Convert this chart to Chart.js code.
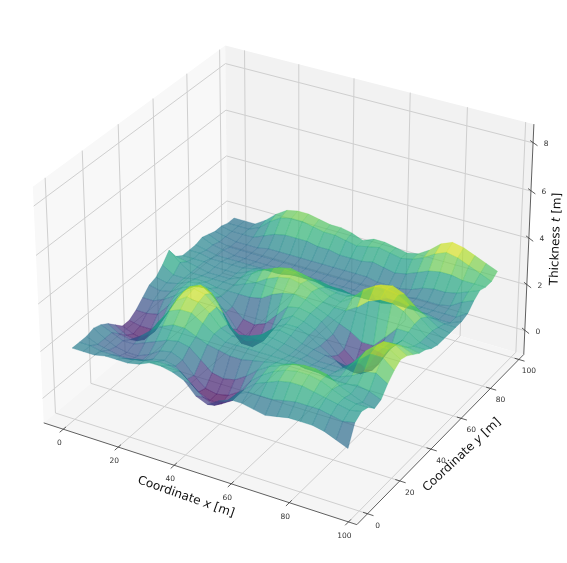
<!DOCTYPE html>
<html>
<head>
<meta charset="utf-8">
<title>Thickness surface</title>
<script src="https://cdn.jsdelivr.net/npm/chart.js@4/dist/chart.umd.js"></script>
<style>
    html, body { margin: 0; padding: 0; background: #fff; }
    canvas { display: block; }
</style>
</head>
<body>
<canvas id="surface" width="567" height="563"></canvas>
<script>
/* ---------- Data ---------- */
const xTicks = [0, 20, 40, 60, 80, 100];
const yTicks = [0, 20, 40, 60, 80, 100];
const zTicks = [0, 2, 4, 6, 8];
const xLim = [-7.2, 102.8];
const yLim = [-6.5, 103.5];
const zLim = [-1.06, 8.77];
const gridStep = 4;

// thickness, one row per y step, one column per x step
const thickness = [
    [2.0,2.0,2.0,2.1,2.1,2.1,2.2,2.4,2.4,2.3,2.1,1.6,1.4,1.7,1.9,1.9,1.8,1.7,1.8,1.9,1.9,1.9,1.8,1.6,1.4],
    [2.0,2.0,1.9,1.9,1.9,2.0,2.1,2.2,2.2,2.1,1.7,1.3,1.1,1.4,1.9,2.1,2.1,2.1,2.2,2.3,2.3,2.3,2.2,2.1,2.2],
    [2.0,1.8,1.7,1.6,1.6,1.7,1.9,2.0,1.9,1.5,1.1,0.9,0.9,1.2,1.8,2.2,2.4,2.6,2.7,2.7,2.6,2.5,2.4,2.3,2.4],
    [2.1,1.8,1.6,1.5,1.5,1.7,2.0,2.1,1.9,1.4,1.0,0.9,1.0,1.3,1.9,2.3,2.6,2.8,2.9,2.9,2.8,2.6,2.4,2.3,2.3],
    [2.0,1.8,1.6,1.6,1.8,2.0,2.2,2.3,2.2,1.8,1.4,1.3,1.4,1.7,2.1,2.4,2.6,2.8,2.9,2.9,2.8,2.5,2.3,2.1,2.0],
    [1.8,1.5,1.4,1.7,2.1,2.4,2.6,2.6,2.4,2.2,2.1,2.0,2.0,2.1,2.2,2.3,2.4,2.5,2.5,2.4,2.3,2.3,2.4,2.3,2.1],
    [1.5,1.2,1.1,1.5,2.2,2.8,3.0,3.0,2.7,2.4,2.2,2.2,2.2,2.2,2.2,2.2,2.2,2.1,2.1,2.1,2.2,2.4,2.7,2.8,2.5],
    [1.2,1.0,0.9,1.4,2.2,3.0,3.3,3.2,2.9,2.4,2.2,2.2,2.3,2.3,2.2,2.1,2.1,2.0,2.0,2.0,2.3,2.8,3.2,3.2,2.8],
    [1.2,1.1,1.1,1.6,2.4,3.1,3.4,3.3,2.9,2.3,2.0,2.1,2.3,2.3,2.2,2.1,2.0,1.9,1.9,1.9,2.3,2.9,3.3,3.3,3.0],
    [1.4,1.4,1.5,2.0,2.6,3.1,3.3,3.1,2.4,1.7,1.5,1.7,2.2,2.4,2.3,2.1,2.0,1.9,1.8,1.7,2.0,2.8,3.2,3.2,2.9],
    [1.7,1.7,1.9,2.2,2.6,2.9,2.9,2.4,1.5,1.0,1.0,1.4,2.1,2.4,2.4,2.2,1.9,1.6,1.3,1.2,1.5,2.4,2.9,2.9,2.7],
    [2.0,1.9,2.0,2.3,2.5,2.6,2.3,1.8,1.2,1.0,1.0,1.5,2.2,2.5,2.4,2.2,1.9,1.4,1.0,0.9,1.2,2.0,2.6,2.6,2.5],
    [2.1,2.0,2.1,2.3,2.4,2.3,2.1,1.8,1.4,1.3,1.5,2.0,2.5,2.6,2.5,2.3,1.9,1.4,1.0,0.9,1.2,2.0,2.5,2.4,2.4],
    [2.4,2.1,2.1,2.2,2.2,2.1,2.1,2.1,2.1,2.2,2.5,2.7,2.8,2.7,2.5,2.3,2.1,1.9,1.6,1.6,2.1,2.6,2.6,2.3,2.2],
    [2.8,2.4,2.1,2.1,2.1,2.1,2.1,2.3,2.5,2.8,3.0,3.1,3.0,2.8,2.5,2.4,2.4,2.7,3.1,3.3,3.3,3.1,2.7,2.3,2.1],
    [2.3,2.2,2.1,2.0,2.0,2.0,2.2,2.5,2.8,3.0,3.1,3.1,2.9,2.7,2.5,2.4,2.7,3.2,3.5,3.5,3.4,3.1,2.7,2.3,2.1],
    [2.1,2.1,2.1,2.0,2.0,2.0,2.2,2.4,2.6,2.8,2.9,2.8,2.7,2.5,2.4,2.4,2.6,3.0,3.3,3.4,3.2,2.8,2.5,2.2,2.1],
    [2.1,2.1,2.0,2.0,2.0,2.0,2.1,2.2,2.2,2.3,2.4,2.4,2.4,2.3,2.3,2.2,2.2,2.3,2.5,2.5,2.4,2.3,2.2,2.1,2.1],
    [2.1,2.0,1.9,1.9,1.9,1.9,1.9,1.9,1.9,2.0,2.0,2.0,1.9,1.9,1.9,1.9,1.9,1.9,2.0,2.0,2.0,2.0,1.9,1.9,2.1],
    [2.2,2.0,1.9,1.8,1.8,1.8,1.8,1.8,1.8,1.8,1.8,1.8,1.8,1.8,1.8,1.8,1.8,1.8,1.8,1.9,1.9,1.9,1.9,1.9,2.2],
    [2.1,1.9,1.8,1.8,1.8,1.8,1.8,1.8,1.8,1.8,1.8,1.8,1.8,1.8,1.8,1.8,1.8,1.8,1.8,1.9,1.9,1.9,2.0,2.3,2.5],
    [2.0,1.9,1.8,1.8,1.8,1.9,1.9,1.9,1.9,1.9,1.9,1.9,1.9,1.9,1.9,1.8,1.8,1.8,1.9,2.1,2.2,2.2,2.3,2.5,2.7],
    [2.0,1.9,1.9,1.9,2.1,2.3,2.4,2.4,2.4,2.3,2.3,2.2,2.2,2.2,2.3,2.2,2.1,2.2,2.4,2.6,2.7,2.7,2.6,2.6,2.6],
    [1.9,1.9,1.9,2.1,2.5,2.8,2.9,2.9,2.8,2.7,2.7,2.6,2.5,2.6,2.7,2.6,2.5,2.6,2.8,3.1,3.3,3.2,3.0,2.8,2.6],
    [1.9,1.9,1.9,2.2,2.6,2.9,3.0,3.0,2.9,2.8,2.8,2.7,2.5,2.7,2.7,2.6,2.5,2.6,2.9,3.3,3.5,3.4,3.2,3.0,2.8]
];

const viridis = [[68,1,84],[72,40,120],[62,74,137],[49,104,142],[38,130,142],[31,158,137],[53,183,121],[109,205,89],[180,222,44],[253,231,37]];

/* ---------- Camera (elev 30, azim -60, box 4:4:3) ---------- */
const BOX_XY = 1.1428, BOX_Z = 0.8571, CAM_DIST = 10;
const SCALE = 314, CENTER_X = 288, CENTER_Y = 274;

function project(x, y, z) {
    const dx = ((x - xLim[0]) / (xLim[1] - xLim[0]) - 0.5) * BOX_XY;
    const dy = ((y - yLim[0]) / (yLim[1] - yLim[0]) - 0.5) * BOX_XY;
    const dz = ((z - zLim[0]) / (zLim[1] - zLim[0]) - 0.5) * BOX_Z;
    const u = 0.866 * dx + 0.5 * dy;
    const v = -0.25 * dx + 0.433 * dy + 0.866 * dz;
    const w = CAM_DIST - (0.433 * dx - 0.75 * dy + 0.5 * dz);
    return {
        x: CENTER_X + SCALE * u * CAM_DIST / w,
        y: CENTER_Y - SCALE * v * CAM_DIST / w,
        w: w
    };
}

function viridisColor(t, alpha) {
    const p = Math.min(Math.max(t, 0), 1) * (viridis.length - 1);
    const i = Math.min(Math.floor(p), viridis.length - 2);
    const c = viridis[i].map((a, k) => Math.round(a + (viridis[i + 1][k] - a) * (p - i)));
    return `rgba(${c[0]},${c[1]},${c[2]},${alpha})`;
}

/* ---------- Datasets ---------- */
function lineSet(pts, color, width) {
    return {
        data: pts.map(p => ({ x: p.x, y: p.y })),
        showLine: true, borderColor: color, borderWidth: width,
        pointRadius: 0, fill: false, tension: 0
    };
}

function paneSet(pts, color) {
    return {
        data: pts.concat([pts[0]]).map(p => ({ x: p.x, y: p.y })),
        showLine: true, borderWidth: 0, borderColor: color, backgroundColor: color,
        pointRadius: 0, fill: 'shape', tension: 0
    };
}

function buildBackground() {
    const [x0, x1] = xLim, [y0, y1] = yLim, [z0, z1] = zLim;
    const sets = [
        paneSet([project(x0, y0, z0), project(x0, y1, z0), project(x0, y1, z1), project(x0, y0, z1)], '#f8f8f8'),
        paneSet([project(x0, y1, z0), project(x1, y1, z0), project(x1, y1, z1), project(x0, y1, z1)], '#f2f2f2'),
        paneSet([project(x0, y0, z0), project(x1, y0, z0), project(x1, y1, z0), project(x0, y1, z0)], '#f5f5f5')
    ];
    const grid = '#cfcfcf';
    xTicks.forEach(t => sets.push(lineSet([project(t, y0, z0), project(t, y1, z0), project(t, y1, z1)], grid, 1)));
    yTicks.forEach(t => sets.push(lineSet([project(x1, t, z0), project(x0, t, z0), project(x0, t, z1)], grid, 1)));
    zTicks.forEach(t => sets.push(lineSet([project(x0, y0, t), project(x0, y1, t), project(x1, y1, t)], grid, 1)));

    // axis lines and tick marks
    const axis = '#5f5f5f';
    sets.push(lineSet([project(x0, y0, z0), project(x1, y0, z0), project(x1, y1, z0), project(x1, y1, z1)], axis, 1));
    xTicks.forEach(t => sets.push(lineSet([project(t, y0 + 1.5, z0), project(t, y0 - 2, z0)], '#333', 0.8)));
    yTicks.forEach(t => sets.push(lineSet([project(x1 - 1.5, t, z0), project(x1 + 2, t, z0)], '#333', 0.8)));
    zTicks.forEach(t => sets.push(lineSet([project(x1 - 1.5, y1 + 1, t), project(x1 + 2, y1 - 1, t)], '#333', 0.8)));
    return sets;
}

function buildSurface() {
    const flat = thickness.flat();
    const zMin = Math.min(...flat), zMax = Math.max(...flat);
    const nx = thickness[0].length, ny = thickness.length;
    const cells = [];
    for (let j = 0; j < ny - 1; j++) {
        for (let i = 0; i < nx - 1; i++) {
            const zs = [thickness[j][i], thickness[j][i + 1], thickness[j + 1][i + 1], thickness[j + 1][i]];
            const pts = [
                project(i * gridStep, j * gridStep, zs[0]),
                project((i + 1) * gridStep, j * gridStep, zs[1]),
                project((i + 1) * gridStep, (j + 1) * gridStep, zs[2]),
                project(i * gridStep, (j + 1) * gridStep, zs[3])
            ];
            const mean = zs.reduce((a, b) => a + b, 0) / 4;
            const depth = pts.reduce((a, p) => a + p.w, 0) / 4;
            const fillColor = viridisColor((mean - zMin) / (zMax - zMin), 0.7);
            cells.push({
                depth: depth,
                set: {
                    data: pts.concat([pts[0]]).map(p => ({ x: p.x, y: p.y })),
                    showLine: true, borderWidth: 0.4, borderColor: fillColor, backgroundColor: fillColor,
                    pointRadius: 0, fill: 'shape', tension: 0
                }
            });
        }
    }
    // nearest cell first: Chart.js paints dataset 0 last
    cells.sort((a, b) => a.depth - b.depth);
    return cells.map(c => c.set);
}

/* ---------- Text ---------- */
function drawRotated(ctx, cx, cy, angle, parts) {
    ctx.save();
    ctx.translate(cx, cy);
    ctx.rotate(angle * Math.PI / 180);
    ctx.textBaseline = 'middle';
    ctx.textAlign = 'left';
    ctx.fillStyle = '#111';
    const fonts = parts.map(p => (p.italic ? 'italic ' : '') + '12px "DejaVu Sans"');
    let total = 0;
    parts.forEach((p, k) => { ctx.font = fonts[k]; total += ctx.measureText(p.text).width; });
    let pos = -total / 2;
    parts.forEach((p, k) => {
        ctx.font = fonts[k];
        ctx.fillText(p.text, pos, 0);
        pos += ctx.measureText(p.text).width;
    });
    ctx.restore();
}

const axisText = {
    id: 'axisText',
    afterDraw(chart) {
        const ctx = chart.ctx;
        const px = chart.scales.x, py = chart.scales.y;
        const [x0, x1] = xLim, [y0, y1] = yLim, [z0] = zLim;
        ctx.save();
        ctx.font = '7.5px "DejaVu Sans"';
        ctx.fillStyle = '#333';
        ctx.textAlign = 'center';
        ctx.textBaseline = 'middle';
        xTicks.forEach(t => {
            const p = project(t, y0, z0);
            ctx.fillText(String(t), px.getPixelForValue(p.x) - 4, py.getPixelForValue(p.y) + 14);
        });
        yTicks.forEach(t => {
            const p = project(x1, t, z0);
            ctx.fillText(String(t), px.getPixelForValue(p.x) + 10, py.getPixelForValue(p.y) + 12);
        });
        zTicks.forEach(t => {
            const p = project(x1, y1, t);
            ctx.fillText(String(t), px.getPixelForValue(p.x) + 13, py.getPixelForValue(p.y) + 1);
        });
        ctx.restore();
        drawRotated(ctx, 186, 497, 19.4, [{ text: 'Coordinate ' }, { text: 'x', italic: true }, { text: ' [m]' }]);
        drawRotated(ctx, 462, 455, -43, [{ text: 'Coordinate ' }, { text: 'y', italic: true }, { text: ' [m]' }]);
        drawRotated(ctx, 556, 239, -88, [{ text: 'Thickness ' }, { text: 't', italic: true }, { text: ' [m]' }]);
    }
};

/* ---------- Chart ---------- */
// background goes last so that it is painted first
const datasets = buildSurface().concat(buildBackground().reverse());

new Chart(document.getElementById('surface').getContext('2d'), {
    type: 'scatter',
    data: { datasets: datasets },
    options: {
        responsive: false,
        animation: false,
        events: [],
        layout: { padding: 0 },
        plugins: { legend: { display: false }, tooltip: { enabled: false } },
        scales: {
            x: { type: 'linear', min: 0, max: 567, display: false },
            y: { type: 'linear', min: 0, max: 563, reverse: true, display: false }
        }
    },
    plugins: [axisText]
});
</script>
</body>
</html>
